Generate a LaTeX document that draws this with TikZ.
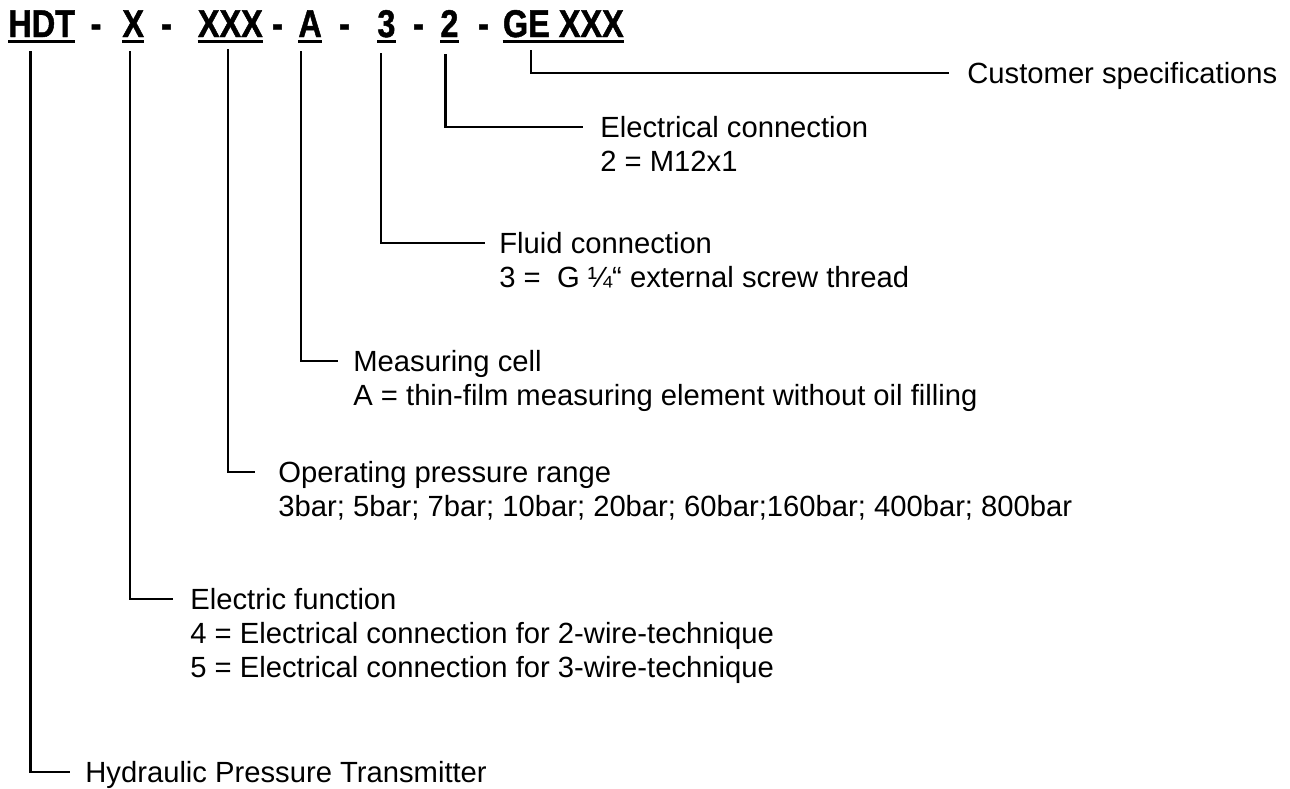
\documentclass[tikz,border=0pt]{standalone}
\usepackage{fontspec}
\setmainfont{Liberation Sans}
\newfontfamily\hdrfam[FakeStretch=0.84,FakeBold=1.2]{Liberation Sans Bold}
\newcommand\lblfont{\fontsize{14.6pt}{17pt}\selectfont}
\newcommand\hdrfont{\hdrfam\fontsize{19.3pt}{22pt}\selectfont}
\begin{document}
\begin{tikzpicture}[x=0.5pt,y=-0.5pt,
  lbl/.style={font=\lblfont, inner sep=0pt, anchor=base west},
  hdr/.style={font=\hdrfont, inner sep=0pt, anchor=base west},
  conn/.style={line width=1.1pt, line join=miter},
  uline/.style={line width=1.4pt}]
\useasboundingbox (0,0) rectangle (1290,788);
% header tokens
\node[hdr] (hdt) at (8,37) {HDT};
\node[hdr] (d1) at (90.3,37) {-};
\node[hdr] (x) at (122,37) {X};
\node[hdr] (d2) at (160.7,37) {-};
\node[hdr] (xxx) at (197.5,37) {XXX\ };
\node[hdr] (d3) at (271.7,37) {-};
\node[hdr] (a) at (298,37) {A};
\node[hdr] (d4) at (338.7,37) {-};
\node[hdr] (three) at (377,37) {3};
\node[hdr] (d5) at (412.7,37) {-};
\node[hdr] (two) at (440,37) {2};
\node[hdr] (d6) at (477.7,37) {-};
\node[hdr] (ge) at (502.6,37) {GE XXX};
% underlines
\foreach \n in {hdt,x,xxx,a,three,two,ge}
  \draw[uline] ([yshift=-2.2pt]\n.base west) -- ([yshift=-2.2pt]\n.base east);
% labels
\node[lbl] (cs) at (967,83.5) {Customer specifications};
\node[lbl] (ec1) at (600,137.5) {Electrical connection};
\node[lbl] (ec2) at (600,171.5) {2 = M12x1};
\node[lbl] (fc1) at (499,253.5) {Fluid connection};
\node[lbl] (fc2) at (499,287.5) {3 = \ G ¼“ external screw thread};
\node[lbl] (mc1) at (353,371.5) {Measuring cell};
\node[lbl] (mc2) at (353,405.5) {A = thin-film measuring element without oil filling};
\node[lbl] (op1) at (278,482.5) {Operating pressure range};
\node[lbl] (op2) at (278,516.5) {3bar; 5bar; 7bar; 10bar; 20bar; 60bar;160bar; 400bar; 800bar};
\node[lbl] (ef1) at (190,609.5) {Electric function};
\node[lbl] (ef2) at (190,643.5) {4 = Electrical connection for 2-wire-technique};
\node[lbl] (ef3) at (190,677.5) {5 = Electrical connection for 3-wire-technique};
\node[lbl] (hpt) at (85,782.5) {Hydraulic Pressure Transmitter};
% connector start / end points
\coordinate (t1) at (30.5,51);  \coordinate (e1) at (70,772);
\coordinate (t2) at (130,51);   \coordinate (e2) at (173,599);
\coordinate (t3) at (228,49);   \coordinate (e3) at (255,472);
\coordinate (t4) at (301,51);   \coordinate (e4) at (338,361);
\coordinate (t5) at (381,53);   \coordinate (e5) at (485,243);
\coordinate (t6) at (445.5,54); \coordinate (e6) at (583,127);
\coordinate (t7) at (531,50);   \coordinate (e7) at (949,73);
\draw[conn] (t1) |- (e1);
\draw[conn] (t2) |- (e2);
\draw[conn] (t3) |- (e3);
\draw[conn] (t4) |- (e4);
\draw[conn] (t5) |- (e5);
\draw[conn] (t6) |- (e6);
\draw[conn] (t7) |- (e7);
\end{tikzpicture}
\end{document}
